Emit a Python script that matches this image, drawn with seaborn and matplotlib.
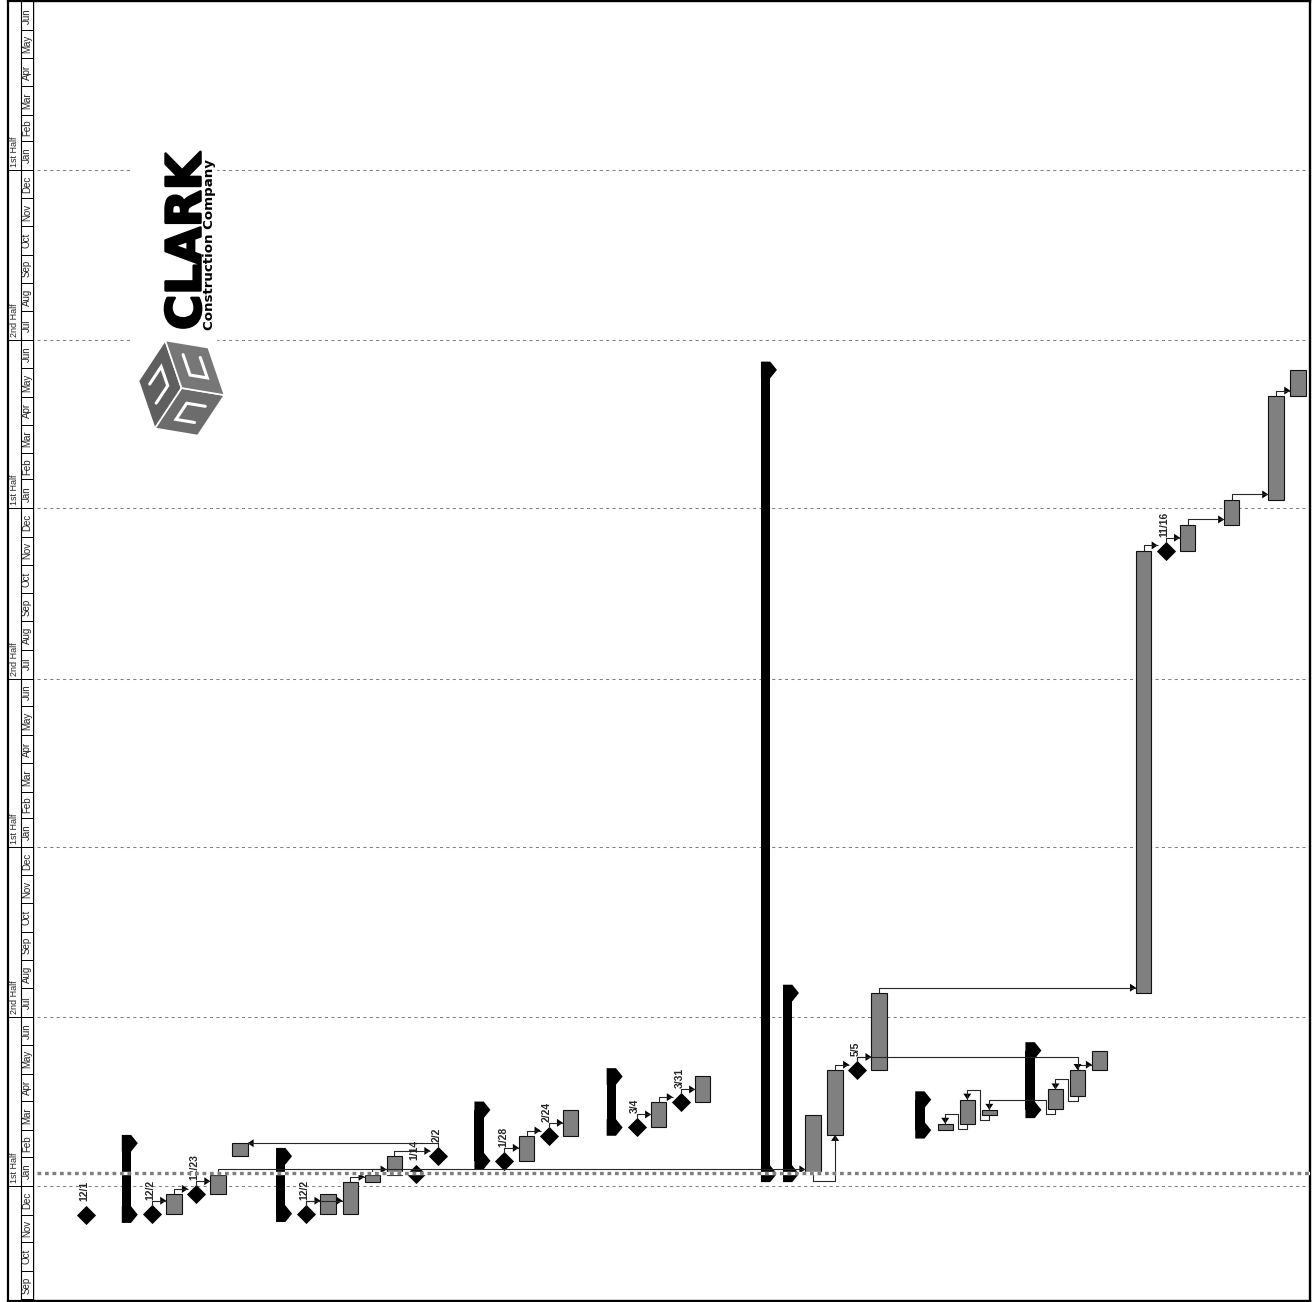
import matplotlib
matplotlib.use("Agg")
import numpy as np
import pandas as pd
import matplotlib.pyplot as plt
import matplotlib.dates as mdates
from matplotlib.patches import Polygon, Rectangle
import matplotlib.patheffects as pe
import seaborn as sns

# ---------------------------------------------------------------- schedule
task_rows = [4, 6, 7, 11, 12, 13, 14, 20, 22, 26, 28, 33, 34, 36,
             39, 40, 41, 44, 45, 46, 48, 50, 52, 54, 55]
task_start = ["2003-12-02", "2003-12-23", "2004-02-02", "2003-12-02", "2003-12-02",
              "2004-01-05", "2004-01-13", "2004-01-28", "2004-02-24", "2004-03-04",
              "2004-03-31", "2004-01-14", "2004-02-25", "2004-05-05", "2004-03-01",
              "2004-03-08", "2004-03-17", "2004-03-24", "2004-04-07", "2004-05-05",
              "2004-07-27", "2005-11-16", "2005-12-14", "2006-01-10", "2006-05-02"]
task_finish = ["2003-12-23", "2004-01-13", "2004-02-16", "2003-12-23", "2004-01-05",
               "2004-01-13", "2004-02-02", "2004-02-24", "2004-03-23", "2004-03-31",
               "2004-04-28", "2004-03-17", "2004-05-05", "2004-07-27", "2004-03-08",
               "2004-04-03", "2004-03-23", "2004-04-14", "2004-05-05", "2004-05-26",
               "2005-11-16", "2005-12-14", "2006-01-10", "2006-05-02", "2006-05-30"]

milestone_rows = [0, 3, 5, 10, 15, 16, 19, 21, 25, 27, 35, 49]
milestone_dates = ["2003-12-01", "2003-12-02", "2003-12-23", "2003-12-02",
                   "2004-01-14", "2004-02-02", "2004-01-28", "2004-02-24",
                   "2004-03-04", "2004-03-31", "2004-05-05", "2005-11-16"]

summary_rows = [2, 9, 18, 24, 31, 32, 38, 43]
summary_start = ["2003-12-01", "2003-12-02", "2004-01-28", "2004-03-04",
                 "2004-01-14", "2004-01-14", "2004-03-01", "2004-03-23"]
summary_finish = ["2004-02-16", "2004-02-02", "2004-03-23", "2004-04-28",
                  "2006-05-30", "2004-07-27", "2004-04-03", "2004-05-26"]

# dependency links: predecessor row -> successor row, link type
link_from = [3, 4, 5, 6, 10, 10, 12, 13, 14, 16, 19, 20, 21, 25, 26, 27,
             34, 35, 36, 48, 49, 50, 52, 54, 45, 33, 35, 40, 41, 44, 45]
link_to = [4, 5, 6, 33, 11, 12, 13, 14, 16, 7, 20, 21, 22, 26, 27, 28,
           35, 36, 48, 49, 50, 52, 54, 55, 46, 34, 45, 39, 40, 41, 44]
link_type = ["FS"] * 25 + ["SS", "FF", "SF", "SF", "SF", "SF"]

status_date = "2004-01-15"
timescale_start = "2003-09-01"
timescale_end = "2007-07-01"
month_names = ["Jan", "Feb", "Mar", "Apr", "May", "Jun",
               "Jul", "Aug", "Sep", "Oct", "Nov", "Dec"]
half_names = ["1st Half", "2nd Half"]
company_name = "CLARK"
company_sub = "Construction Company"

# ---------------------------------------------------------------- styling
sns.set_theme(style="white")
plt.rcParams["font.family"] = ["Liberation Sans", "DejaVu Sans"]
plt.rcParams["lines.scale_dashes"] = False

W, H = 1312, 1302
fig = plt.figure(figsize=(W / 100, H / 100), dpi=100)


def rect(x0, y0, x1, y1):
    return [x0 / W, 1 - y1 / H, (x1 - x0) / W, (y1 - y0) / H]


PX_ROW = 22.04          # pixels per task row
ROW0_PX = 85.7          # pixel position of row 0
AX_L, AX_R, AX_T, AX_B = 32.8, 1310.3, 1.2, 1300.5
TS_L, TS_DIV = 8.3, 21.0

t0 = mdates.date2num(pd.Timestamp(timescale_start))
t1 = mdates.date2num(pd.Timestamp(timescale_end))
PX_DAY = 1297.2 / (t1 - t0)
ylo, yhi = t0 - 1.5 / PX_DAY, t1 + 0.6 / PX_DAY
xlo, xhi = (AX_L - ROW0_PX) / PX_ROW, (AX_R - ROW0_PX) / PX_ROW
DX, DY = 1 / PX_ROW, 1 / PX_DAY

ax = fig.add_axes(rect(AX_L, AX_T, AX_R, AX_B))
ts = fig.add_axes(rect(TS_L, AX_T, AX_L, AX_B))

tasks = pd.DataFrame({"row": task_rows,
                      "s": mdates.date2num(pd.to_datetime(task_start)),
                      "f": mdates.date2num(pd.to_datetime(task_finish))})
miles = pd.DataFrame({"row": milestone_rows,
                      "dt": pd.to_datetime(milestone_dates)})
miles["d"] = mdates.date2num(miles["dt"])
summ = pd.DataFrame({"row": summary_rows,
                     "s": mdates.date2num(pd.to_datetime(summary_start)),
                     "f": mdates.date2num(pd.to_datetime(summary_finish))})

# ---------------------------------------------------------------- gridlines
months = pd.date_range(timescale_start, timescale_end, freq="MS")
mnum = mdates.date2num(months)
halves = [m for m in months[:-1] if m.month in (1, 7)]
grid_x0 = (37 - AX_L) / (AX_R - AX_L)
for h in halves:
    ax.axhline(mdates.date2num(h), xmin=grid_x0, color="#7f7f7f", lw=0.75,
               dashes=(2.2, 2.4), zorder=1)

# ---------------------------------------------------------------- task bars
TASK_W = 15.3 * DX
ax.bar(tasks["row"], tasks["f"] - tasks["s"], bottom=tasks["s"], width=TASK_W,
       color="#808080", edgecolor="#111111", linewidth=0.8, zorder=3)

# summary bars with end caps
b_l, b_r, apex, cap_h = -8 * DX, 1.3 * DX, 8 * DX, 8.3 * DY
ax.bar(summ["row"] + (b_l + b_r) / 2, summ["f"] - summ["s"], bottom=summ["s"],
       width=b_r - b_l, color="black", linewidth=0, zorder=3)
for r, s, f in zip(summ["row"], summ["s"], summ["f"]):
    for d in (s, f):
        ax.add_patch(Polygon([(r + b_l, d - cap_h), (r + b_r, d - cap_h),
                              (r + apex, d), (r + b_r, d + cap_h),
                              (r + b_l, d + cap_h)], closed=True,
                             color="black", lw=0, zorder=3))

# milestones
sns.scatterplot(x=miles["row"], y=miles["d"], marker="D", s=95, color="black",
                linewidth=0, ax=ax, zorder=4, legend=False)
for r, d, dt in zip(miles["row"], miles["d"], miles["dt"]):
    ax.text(r - 1.5 * DX, d + 14 * DY, f"{dt.month}/{dt.day}", rotation=90,
            ha="center", va="bottom", fontsize=7.5, fontweight="bold", zorder=6)

# ---------------------------------------------------------------- links
start_of = dict(zip(tasks["row"], tasks["s"]))
finish_of = dict(zip(tasks["row"], tasks["f"]))
ms_set = set(miles["row"])
for r, d in zip(miles["row"], miles["d"]):
    start_of[r] = d
    finish_of[r] = d

LINK_C = "#262626"


def arrowhead(x, y, direction):
    L, w = 6, 4
    if direction == "right":
        pts = [(x, y), (x - L * DX, y + w * DY), (x - L * DX, y - w * DY)]
    elif direction == "left":
        pts = [(x, y), (x + L * DX, y + w * DY), (x + L * DX, y - w * DY)]
    elif direction == "up":
        pts = [(x, y), (x - w * DX, y - L * DY), (x + w * DX, y - L * DY)]
    else:
        pts = [(x, y), (x - w * DX, y + L * DY), (x + w * DX, y + L * DY)]
    ax.add_patch(Polygon(pts, closed=True, color="black", lw=0, zorder=5))


def half_width(r):
    return 8 * DX if r in ms_set else TASK_W / 2


for p, s, kind in zip(link_from, link_to, link_type):
    if kind == "FS":
        if p in ms_set:
            y0, yl = finish_of[p] + 8 * DY, finish_of[p] + 13 * DY
        else:
            y0, yl = finish_of[p], finish_of[p] + 5.3 * DY
        if s > p:
            xe, dirn = s - half_width(s), "right"
        else:
            xe, dirn = s + half_width(s), "left"
        xs, ys = [p, p, xe], [y0, yl, yl]
        arrowhead(xe, yl, dirn)
    elif kind == "SS":
        yb = start_of[p] - 6.7 * DY
        xs, ys = [p, p, s, s], [start_of[p], yb, yb, start_of[s]]
        arrowhead(s, start_of[s], "up")
    elif kind == "FF":
        y0, yl = finish_of[p] + 8 * DY, finish_of[p] + 13 * DY
        xs, ys = [p, p, s, s], [y0, yl, yl, finish_of[s]]
        arrowhead(s, finish_of[s], "down")
    else:  # SF
        yb = start_of[p] - 5 * DY
        xv = p - TASK_W / 2 - 2 * DX
        yt = finish_of[s] + 10 * DY
        xs = [p, p, xv, xv, s, s]
        ys = [start_of[p], yb, yb, yt, yt, finish_of[s]]
        arrowhead(s, finish_of[s], "down")
    ax.plot(xs, ys, color=LINK_C, lw=0.8, zorder=5, solid_capstyle="butt")

# status date line drawn across everything
sd = mdates.date2num(pd.Timestamp(status_date))
ax.axhline(sd, xmin=grid_x0, color="white", lw=2.4, zorder=7)
ax.axhline(sd, xmin=grid_x0, color="#7f7f7f", lw=2.4, dashes=(2.7, 2.7),
           dash_capstyle="butt", zorder=8)

# ---------------------------------------------------------------- main frame
ax.set_xlim(xlo, xhi)
ax.set_ylim(ylo, yhi)
ax.set_xlabel("")
ax.set_ylabel("")
ax.set_yticks([])
tick_rows = np.arange(-4, 57) + ((10 - ROW0_PX) / PX_ROW) % 1
ax.set_xticks(tick_rows[(tick_rows > xlo + 0.2) & (tick_rows < xhi)])
ax.tick_params(axis="x", bottom=True, direction="out", length=2.2, width=0.8,
               color="black", labelbottom=False)
for sp in ax.spines.values():
    sp.set_visible(True)
    sp.set_color("black")
    sp.set_linewidth(1.7)

# ---------------------------------------------------------------- timescale
ts.set_xlim(0, 1)
ts.set_ylim(ylo, yhi)
div = (TS_DIV - TS_L) / (AX_L - TS_L)
ts.axvline(div, color="black", lw=0.8)
for a, b, m in zip(mnum[:-1], mnum[1:], months[:-1]):
    ts.plot([div, 1], [a, a], color="black", lw=0.7)
    ts.text((div + 1) / 2, (a + b) / 2, month_names[m.month - 1], rotation=90,
            ha="center", va="center", fontsize=7)
for h in halves:
    hn = mdates.date2num(h)
    ts.plot([0, 1], [hn, hn], color="black", lw=0.7)
    ts.text(div / 2, hn + 3 * DY, half_names[0 if h.month == 1 else 1],
            rotation=90, ha="center", va="bottom", fontsize=6.5,
            family=["Liberation Sans Narrow", "Liberation Sans"])
ts.set_yticks([])
ts.set_xticks([(10 - TS_L) / (AX_L - TS_L), (32.0 - TS_L) / (AX_L - TS_L)])
ts.tick_params(axis="x", bottom=True, direction="out", length=2.2, width=0.8,
               color="black", labelbottom=False)
for name, sp in ts.spines.items():
    sp.set_color("black")
    sp.set_linewidth(1.6)
    sp.set_visible(name != "right")

# ---------------------------------------------------------------- logo
ov = fig.add_axes([0, 0, 1, 1])
ov.set_xlim(0, W)
ov.set_ylim(H, 0)
ov.axis("off")
ov.patch.set_alpha(0)
ov.add_patch(Rectangle((133, 148), 83, 290, color="white", zorder=1))
ov.text(187.0, 330, company_name, rotation=90, ha="center", va="bottom",
        fontsize=34.5, fontweight="bold", family="DejaVu Sans", color="black",
        path_effects=[pe.withStroke(linewidth=1.8, foreground="black")], zorder=3)
ov.text(209.0, 330, company_sub, rotation=90, ha="center", va="bottom",
        fontsize=9.6, fontweight="bold", family="DejaVu Sans", color="black",
        zorder=3)

cx, cy, R = 181.5, 388.0, 43.5
ang = np.deg2rad(np.arange(0, 360, 60) + 8)
vx = cx + R * np.cos(ang)
vy = cy + R * 1.18 * np.sin(ang)
shades = ["#6c6c6c", "#5f5f5f", "#777777"]
for k in range(3):
    a, b, c = 2 * k, 2 * k + 1, (2 * k + 2) % 6
    face = [(cx, cy), (vx[a], vy[a]), (vx[b], vy[b]), (vx[c], vy[c])]
    ov.add_patch(Polygon(face, closed=True, facecolor=shades[k],
                         edgecolor="white", lw=1.2, zorder=2))
    O = np.array([cx, cy])
    U = np.array([vx[a], vy[a]]) - O
    V = np.array([vx[c], vy[c]]) - O
    pts = [O + u * U + v * V for u, v in
           [(0.75, 0.32), (0.32, 0.32), (0.32, 0.72), (0.75, 0.72)]]
    ov.plot([q[0] for q in pts], [q[1] for q in pts], color="white", lw=2.2,
            zorder=3, solid_joinstyle="miter")

fig.savefig("out.png", dpi=100)
